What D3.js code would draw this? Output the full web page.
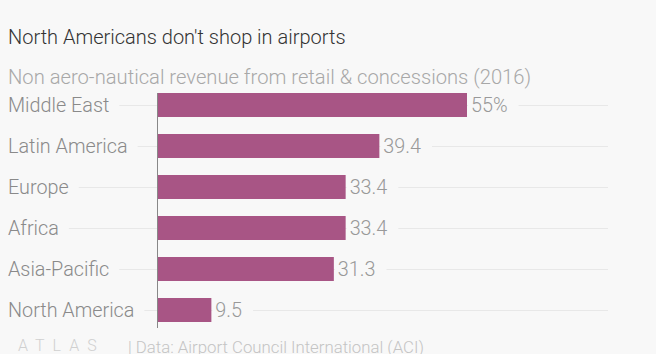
<!DOCTYPE html>
<html lang="en">
<head>
    <meta charset="UTF-8">
    <title>North Americans don't shop in airports</title>
    <script src="https://d3js.org/d3.v7.min.js"></script>
    <style>
        body {
            margin: 0;
            padding: 0;
            background: #f8f8f8;
            font-family: Roboto, "Open Sans", sans-serif;
        }
        svg {
            display: block;
        }
    </style>
</head>
<body>
    <svg></svg>
    <script>
        // Data
        const regions = ["Middle East", "Latin America", "Europe", "Africa", "Asia-Pacific", "North America"];
        const revenue = [55, 39.4, 33.4, 33.4, 31.3, 9.5];
        const valueLabels = ["55%", "39.4", "33.4", "33.4", "31.3", "9.5"];

        const width = 656, height = 354;
        const barColor = "#a85585";
        const bg = "#f8f8f8";
        const fs = "19.8px";

        const svg = d3.select("svg")
            .attr("width", width)
            .attr("height", height);

        svg.append("rect").attr("width", width).attr("height", height).attr("fill", bg);

        // Title and subtitle
        svg.append("text")
            .attr("x", 8).attr("y", 44)
            .attr("fill", "#333")
            .style("font-size", "20px")
            .style("font-weight", 300)
            .text("North Americans don't shop in airports");

        svg.append("text")
            .attr("x", 8).attr("y", 84)
            .attr("fill", "#a8a8a8")
            .style("font-size", "20.2px")
            .style("font-weight", 300)
            .text("Non aero-nautical revenue from retail & concessions (2016)");

        const x0 = 158;
        const x = d3.scaleLinear().domain([0, 55]).range([x0, 467]);

        const y = d3.scaleBand()
            .domain(regions)
            .range([93, 322])
            .paddingInner(0.415)
            .paddingOuter(0);

        const rows = svg.append("g").selectAll("g")
            .data(regions)
            .join("g");

        // gridlines
        rows.append("line")
            .attr("x1", 8)
            .attr("x2", 608)
            .attr("y1", d => Math.round(y(d) + y.bandwidth() / 2) + 0.5)
            .attr("y2", d => Math.round(y(d) + y.bandwidth() / 2) + 0.5)
            .attr("stroke", "#e8e8e8")
            .attr("stroke-width", 1);

        // category labels with background mask
        rows.each(function(d) {
            const g = d3.select(this);
            const cy = y(d) + y.bandwidth() / 2;
            const mask = g.append("rect").attr("fill", bg);
            const t = g.append("text")
                .attr("x", 8)
                .attr("y", cy)
                .attr("dy", "0.35em")
                .attr("fill", "#8a8a8a")
                .style("font-size", fs)
                .style("font-weight", 300)
                .text(d);
            const w = t.node().getComputedTextLength();
            mask.attr("x", 0).attr("y", cy - 12).attr("width", 8 + w + 10).attr("height", 24);
        });

        // bars
        rows.append("rect")
            .attr("x", x(0))
            .attr("y", d => y(d))
            .attr("width", (d, i) => x(revenue[i]) - x(0))
            .attr("height", y.bandwidth())
            .attr("fill", barColor);

        // value labels with mask
        rows.each(function(d, i) {
            const g = d3.select(this);
            const cy = y(d) + y.bandwidth() / 2;
            const mask = g.append("rect").attr("fill", bg);
            const t = g.append("text")
                .attr("x", x(revenue[i]) + 4)
                .attr("y", cy)
                .attr("dy", "0.35em")
                .attr("fill", "#999")
                .style("font-size", fs)
                .style("font-weight", 300)
                .text(valueLabels[i]);
            const w = t.node().getComputedTextLength();
            mask.attr("x", x(revenue[i]) + 1).attr("y", cy - 12).attr("width", w + 14).attr("height", 24);
        });

        // axis line
        svg.append("line")
            .attr("x1", x0 - 0.5).attr("x2", x0 - 0.5)
            .attr("y1", 93).attr("y2", 328)
            .attr("stroke", "#888")
            .attr("stroke-width", 1);

        // footer
        svg.append("text")
            .attr("x", 18).attr("y", 351)
            .attr("fill", "#d0d0d0")
            .style("font-size", "16px")
            .style("font-weight", 300)
            .style("letter-spacing", "8px")
            .text("ATLAS");

        svg.append("text")
            .attr("x", 128).attr("y", 353)
            .attr("fill", "#c4c4c4")
            .style("font-size", "16.8px")
            .style("font-weight", 300)
            .text("| Data: Airport Council International (ACI)");
    </script>
</body>
</html>
